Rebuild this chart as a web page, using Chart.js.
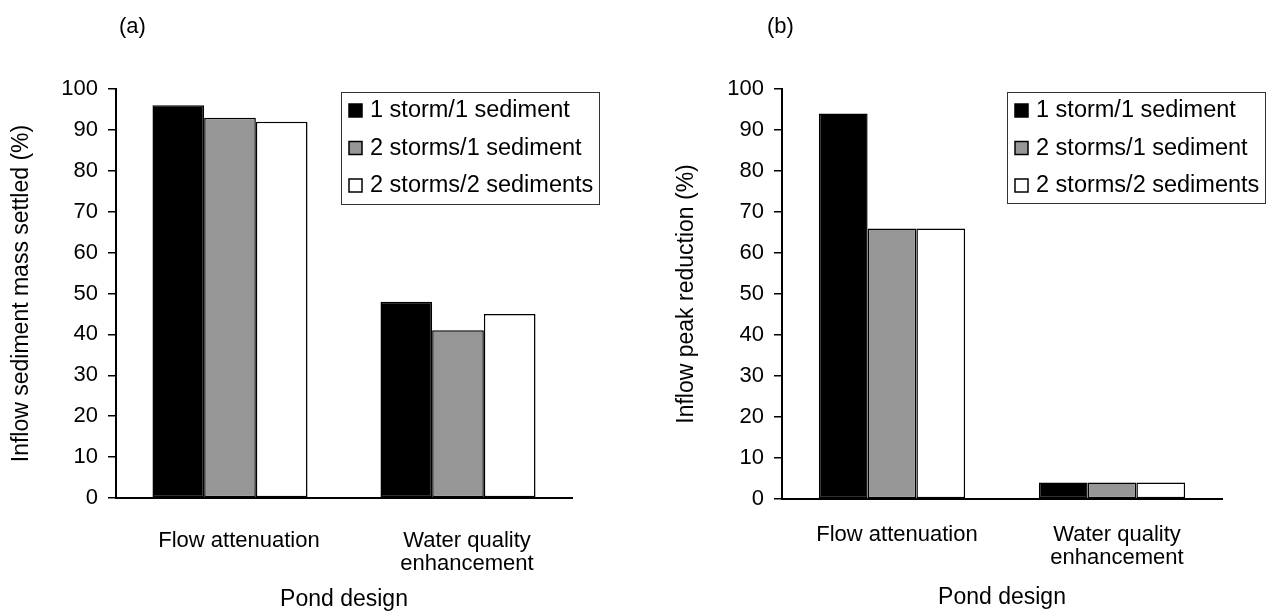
<!DOCTYPE html>
<html>
<head>
<meta charset="utf-8">
<script src="https://cdn.jsdelivr.net/npm/chart.js@4"></script>
<style>
    body { margin: 0; background: #fff; }
    .panel { position: absolute; top: 0; width: 634px; height: 613px; }
    .tag { position: absolute; top: 13px; font: 22px "Liberation Sans", Arial, sans-serif; color: #000; }
</style>
</head>
<body>
<div class="panel" style="left:0"><canvas id="settled"></canvas></div>
<div class="panel" style="left:634px"><canvas id="peak"></canvas></div>
<div class="tag" style="left:119px">(a)</div>
<div class="tag" style="left:767px">(b)</div>
<script>
const designs = [['Flow attenuation'], ['Water quality', 'enhancement']]
const seriesNames = ['1 storm/1 sediment', '2 storms/1 sediment', '2 storms/2 sediments']
const seriesColors = ['#000000', '#969696', '#ffffff']

// (a) inflow sediment mass settled
const settledOneOne = [96, 48]
const settledTwoOne = [93, 41]
const settledTwoTwo = [92, 45]

// (b) inflow peak reduction
const peakOneOne = [94, 4]
const peakTwoOne = [66, 4]
const peakTwoTwo = [66, 4]

const font = '"Liberation Sans", Arial, sans-serif'
Chart.defaults.font.family = font
Chart.defaults.color = '#000'

// legend drawn as a framed box sitting over the plot, like the original
const boxLegend = {
    id: 'boxLegend',
    afterDraw(chart, args, opts) {
        const c = chart.ctx
        c.save()
        c.strokeStyle = '#333'
        c.lineWidth = 1
        c.strokeRect(opts.x + 0.5, opts.y + 0.5, opts.w, opts.h)
        c.font = '23.5px ' + font
        c.textBaseline = 'middle'
        chart.data.datasets.forEach(function(ds, i) {
            const cy = opts.y + 18 + i * 37.5
            c.fillStyle = ds.backgroundColor
            c.fillRect(opts.x + 8, cy - 6, 13, 13)
            c.strokeStyle = '#000'
            c.lineWidth = 1.5
            c.strokeRect(opts.x + 8, cy - 6, 13, 13)
            c.fillStyle = '#000'
            c.fillText(ds.label, opts.x + 29, cy + 1)
        })
        c.restore()
    }
}

function barChart(id, values, yTitle, place) {
    const canvas = document.getElementById(id)
    return new Chart(canvas, {
        type: 'bar',
        data: {
            labels: designs,
            datasets: values.map(function(v, i) {
                return {
                    label: seriesNames[i],
                    data: v,
                    backgroundColor: seriesColors[i],
                    borderColor: '#000',
                    borderWidth: 1.5,
                    borderSkipped: false,
                    categoryPercentage: place.cat,
                    barPercentage: 1
                }
            })
        },
        options: {
            responsive: true,
            maintainAspectRatio: false,
            animation: false,
            layout: {
                padding: { top: place.top, right: place.right, left: 0, bottom: 0 }
            },
            plugins: {
                legend: { display: false },
                tooltip: { enabled: false },
                boxLegend: place.legend
            },
            scales: {
                x: {
                    grid: { display: false },
                    border: { display: true, color: '#000', width: 2 },
                    ticks: {
                        font: { size: 22, lineHeight: 1.05 },
                        padding: place.labelPad,
                        labelOffset: place.labelShift,
                        maxRotation: 0
                    },
                    title: {
                        display: true,
                        text: 'Pond design',
                        font: { size: 23 },
                        padding: { top: 0, bottom: place.titleBottom }
                    },
                    afterFit: function(scale) { scale.height = place.xHeight }
                },
                y: {
                    min: 0,
                    max: 100,
                    ticks: { stepSize: 10, font: { size: 22 }, padding: 10 },
                    grid: { drawOnChartArea: false, drawTicks: true, tickLength: 8, color: '#000', lineWidth: 1.5 },
                    border: { display: true, color: '#000', width: 2 },
                    title: {
                        display: true,
                        text: yTitle,
                        font: { size: 23 },
                        padding: { top: place.titleLeft, bottom: 0 }
                    },
                    afterFit: function(scale) { scale.width = place.yWidth }
                }
            }
        },
        plugins: [boxLegend]
    })
}

barChart('settled', [settledOneOne, settledTwoOne, settledTwoTwo], 'Inflow sediment mass settled (%)', {
    top: 89, right: 62, yWidth: 116, xHeight: 115, cat: 0.68,
    labelPad: 23, labelShift: 9, titleBottom: 0, titleLeft: 8,
    legend: { x: 341, y: 92, w: 258, h: 112 }
})

barChart('peak', [peakOneOne, peakTwoOne, peakTwoTwo], 'Inflow peak reduction (%)', {
    top: 89, right: 46, yWidth: 148, xHeight: 114, cat: 0.665,
    labelPad: 16, labelShift: 5, titleBottom: 2, titleLeft: 39,
    legend: { x: 373, y: 92, w: 258, h: 111 }
})
</script>
</body>
</html>
